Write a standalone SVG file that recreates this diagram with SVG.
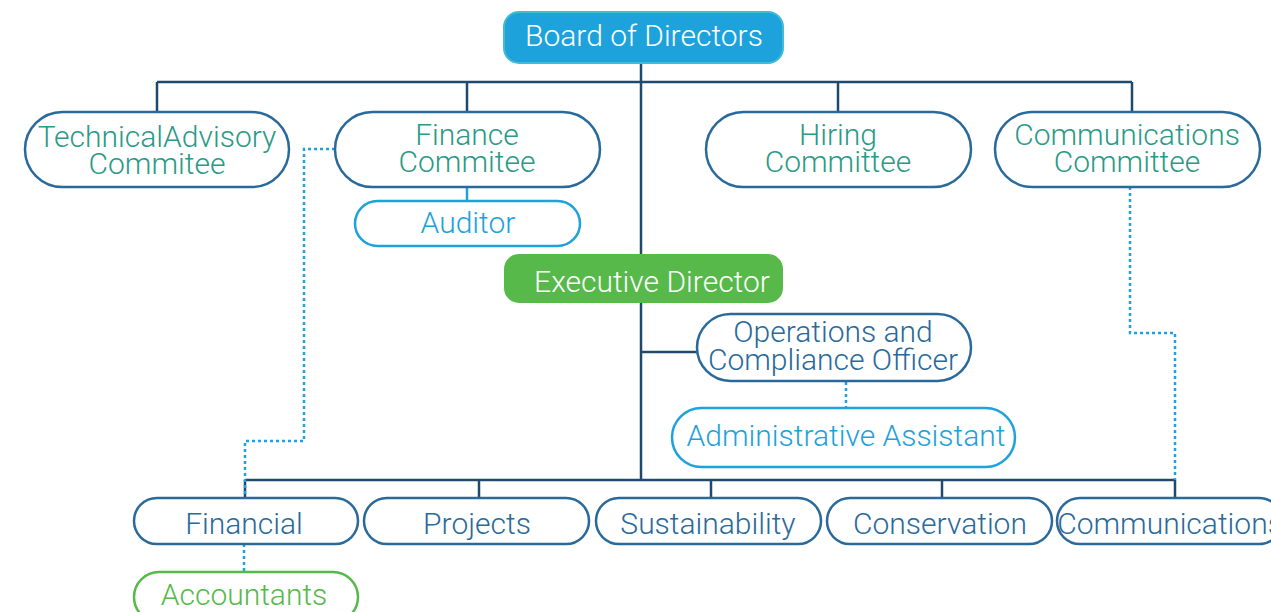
<svg xmlns="http://www.w3.org/2000/svg" width="1271" height="612" viewBox="0 0 1271 612">
<style>
text{font-family:Roboto,"Liberation Sans",sans-serif;font-weight:300;font-size:30px;text-anchor:middle}
.pill{fill:#fff;stroke:#2a6a9b;stroke-width:2.5}
.pillL{fill:#fff;stroke:#1ea2dc;stroke-width:2.5}
.pillG{fill:#fff;stroke:#56b949;stroke-width:2.5}
.teal{fill:#2a9a86}
.dblue{fill:#2a6a9b}
.lblue{fill:#1ea2dc}
.green{fill:#56b949}
.white{fill:#fff}
.line{fill:none;stroke:#1f4a6e;stroke-width:2.5}
.dot{fill:none;stroke:#1ea2dc;stroke-width:2.5;stroke-dasharray:3 3}
.sl{fill:none;stroke:#1ea2dc;stroke-width:2.5}
</style>
<g id="connectors">
<path class="line" d="M641 63V480M157 82H1132M157 82V112M467 82V112M838 82V112M1132 82V112"/>
<path class="line" d="M641 352H697"/>
<path class="line" d="M245 480H1175M245 480V498M479 480V498M711 480V498M942 480V498M1175 480V498"/>
<path class="sl" d="M467 187V201"/>
<path class="dot" d="M335 149H304V441H245V498"/>
<path class="dot" d="M1130 187V333H1175V480"/>
<path class="dot" d="M846 382V408"/>
<path class="dot" d="M244 544V572"/>
</g>
<g id="board">
<rect x="504" y="12" width="279" height="51" rx="15" fill="#1ea2dc" stroke="#43bbd6" stroke-width="2"/>
<text x="644" y="46" class="white">Board of Directors</text>
</g>
<g id="technical">
<rect class="pill" x="25" y="112" width="264" height="75" rx="37.5"/>
<text x="157" y="147" class="teal">TechnicalAdvisory</text>
<text x="157" y="174" class="teal">Commitee</text>
</g>
<g id="finance">
<rect class="pill" x="335" y="112" width="265" height="75" rx="37.5"/>
<text x="467" y="145" class="teal">Finance</text>
<text x="467" y="172" class="teal">Commitee</text>
</g>
<g id="hiring">
<rect class="pill" x="706" y="112" width="265" height="75" rx="37.5"/>
<text x="838" y="145" class="teal">Hiring</text>
<text x="838" y="172" class="teal">Committee</text>
</g>
<g id="commcommittee">
<rect class="pill" x="995" y="112" width="265" height="75" rx="37.5"/>
<text x="1127" y="145" class="teal">Communications</text>
<text x="1127" y="172" class="teal">Committee</text>
</g>
<g id="auditor">
<rect class="pillL" x="355" y="201" width="225" height="45" rx="22.5"/>
<text x="468" y="233" class="lblue">Auditor</text>
</g>
<g id="executive">
<rect x="504" y="254" width="279" height="49" rx="15" fill="#56b949"/>
<text x="652" y="292" class="white">Executive Director</text>
</g>
<g id="operations">
<rect class="pill" x="697" y="314" width="274" height="67" rx="33.5"/>
<text x="833" y="342" class="dblue">Operations and</text>
<text x="833" y="370" class="dblue">Compliance Officer</text>
</g>
<g id="admin">
<rect class="pillL" x="672" y="408" width="343" height="59" rx="29.5"/>
<text x="846" y="446" class="lblue">Administrative Assistant</text>
</g>
<g id="financial">
<rect class="pill" x="134" y="498" width="224" height="46" rx="23"/>
<text x="244" y="534" class="dblue">Financial</text>
</g>
<g id="projects">
<rect class="pill" x="364" y="498" width="225" height="46" rx="23"/>
<text x="477" y="534" class="dblue">Projects</text>
</g>
<g id="sustainability">
<rect class="pill" x="596" y="498" width="225" height="46" rx="23"/>
<text x="708" y="534" class="dblue">Sustainability</text>
</g>
<g id="conservation">
<rect class="pill" x="827" y="498" width="225" height="46" rx="23"/>
<text x="940" y="534" class="dblue">Conservation</text>
</g>
<g id="communications">
<rect class="pill" x="1057" y="498" width="225" height="46" rx="23"/>
<text x="1170" y="534" class="dblue">Communications</text>
</g>
<g id="accountants">
<rect class="pillG" x="134" y="572" width="224" height="50" rx="25"/>
<text x="244" y="605" class="green">Accountants</text>
</g>
</svg>
